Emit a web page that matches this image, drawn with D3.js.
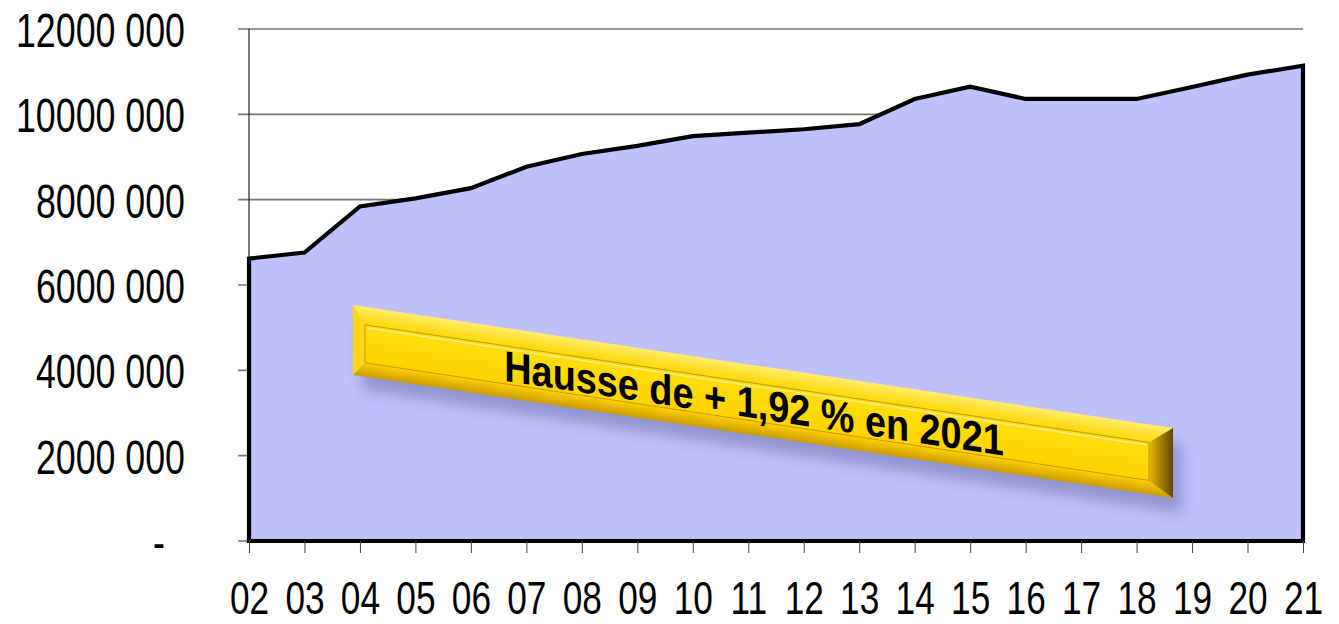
<!DOCTYPE html>
<html><head><meta charset="utf-8">
<script src="https://cdn.jsdelivr.net/npm/d3@7"></script>
<style>html,body{margin:0;padding:0;background:#fff;}svg{display:block;}</style>
</head><body>
<svg id="chart" width="1339" height="624"></svg>
<script>
const categories = ["02","03","04","05","06","07","08","09","10","11","12","13","14","15","16","17","18","19","20","21"];
const values = [6620000,6760000,7840000,8030000,8270000,8770000,9070000,9260000,9490000,9570000,9650000,9770000,10360000,10650000,10360000,10360000,10360000,10640000,10930000,11140000];
const yTicks = [0,2000000,4000000,6000000,8000000,10000000,12000000];
const bannerText = "Hausse de + 1,92 % en 2021";

(function(){
const svg = d3.select("#chart");
const pL = 249, pR = 1303, pT = 29, pB = 541;
const x = d3.scalePoint().domain(categories).range([pL, pR]);
const y = d3.scaleLinear().domain([0, 12000000]).range([pB, pT]);

const fmt = d => d === 0 ? "-" : String(Math.floor(d/1000)) + " " + String(d % 1000).padStart(3, "0");

// gridlines + y ticks
svg.append("g").selectAll("line").data(yTicks).join("line")
  .attr("x1", pL - 11).attr("x2", d => d === 0 ? pL : pR)
  .attr("y1", d => y(d)).attr("y2", d => y(d))
  .attr("stroke", "#767676").attr("stroke-width", 1.6);

// left axis line
svg.append("line").attr("x1", pL).attr("x2", pL).attr("y1", pT).attr("y2", pB)
  .attr("stroke", "#222").attr("stroke-width", 1.2);

// area
const area = d3.area().x((d,i) => x(categories[i])).y0(y(0)).y1(d => y(d));
svg.append("path").datum(values).attr("d", area)
  .attr("fill", "#C0C0FF").attr("stroke", "#000").attr("stroke-width", 4.2)
  .attr("stroke-linejoin", "miter");

// x axis ticks and labels
const xAxis = d3.axisBottom(x).tickSize(12).tickSizeOuter(0).tickPadding(0);
const gx = svg.append("g").attr("transform", `translate(0,${pB})`).call(xAxis);
gx.select(".domain").remove();
gx.selectAll(".tick line").attr("stroke", "#444").attr("stroke-width", 1);
gx.selectAll(".tick text")
  .attr("y", null).attr("dy", null)
  .attr("transform", "translate(0,73) scale(0.75,1)")
  .attr("fill", "#000")
  .style("font-family", "'Liberation Sans', Arial, sans-serif")
  .style("font-size", "47px");

// y axis labels
const yAxis = d3.axisLeft(y).tickValues(yTicks).tickFormat(fmt).tickSize(0).tickPadding(0);
const gy = svg.append("g").attr("transform", `translate(${pL},0)`).call(yAxis);
gy.select(".domain").remove();
gy.selectAll(".tick text")
  .attr("x", null).attr("dy", "0.36em")
  .attr("transform", d => d === 0 ? "translate(-84,0) scale(0.73,1)" : "translate(-64,0) scale(0.73,1)")
  .attr("fill", "#000")
  .style("font-family", "'Liberation Sans', Arial, sans-serif")
  .style("font-size", "49px");

// banner
const defs = svg.append("defs");
const blur = defs.append("filter").attr("id", "blur").attr("x", "-10%").attr("y", "-50%").attr("width", "120%").attr("height", "200%");
blur.append("feGaussianBlur").attr("stdDeviation", 7);
const gTop = defs.append("linearGradient").attr("id", "gTop").attr("x1", 0).attr("y1", 0).attr("x2", 0).attr("y2", 1);
gTop.append("stop").attr("offset", 0).attr("stop-color", "#FFEC70");
gTop.append("stop").attr("offset", 1).attr("stop-color", "#FFD800");
const gRight = defs.append("linearGradient").attr("id", "gRight").attr("x1", 0).attr("y1", 0).attr("x2", 1).attr("y2", 0);
gRight.append("stop").attr("offset", 0).attr("stop-color", "#E8B800");
gRight.append("stop").attr("offset", 1).attr("stop-color", "#5E4800");
const gBot = defs.append("linearGradient").attr("id", "gBot").attr("x1", 0).attr("y1", 0).attr("x2", 0).attr("y2", 1);
gBot.append("stop").attr("offset", 0).attr("stop-color", "#FFD000");
gBot.append("stop").attr("offset", 1).attr("stop-color", "#C89C00");
const gFace = defs.append("linearGradient").attr("id", "gFace").attr("x1", 0).attr("y1", 0).attr("x2", 0).attr("y2", 1);
gFace.append("stop").attr("offset", 0).attr("stop-color", "#FFDD10");
gFace.append("stop").attr("offset", 1).attr("stop-color", "#FFD500");

const W = 820, H = 70, bl = 12, bt = 18, br = 24, bb = 14;
const skew = Math.atan(0.15) * 180 / Math.PI;
const shadow = svg.append("g").attr("transform", `translate(362,320) skewY(${skew})`);
shadow.append("rect").attr("width", W).attr("height", H).attr("fill", "#7d7db8").attr("opacity", 0.65).attr("filter", "url(#blur)");
const b = svg.append("g").attr("transform", `translate(353,305) skewY(${skew})`);
b.append("polygon").attr("points", `0,0 ${W},0 ${W-br},${bt} ${bl},${bt}`).attr("fill", "url(#gTop)");
b.append("polygon").attr("points", `0,0 ${bl},${bt} ${bl},${H-bb} 0,${H}`).attr("fill", "#FFD81A");
b.append("polygon").attr("points", `0,${H} ${bl},${H-bb} ${W-br},${H-bb} ${W},${H}`).attr("fill", "url(#gBot)");
b.append("polygon").attr("points", `${W},0 ${W},${H} ${W-br},${H-bb} ${W-br},${bt}`).attr("fill", "url(#gRight)");
b.append("rect").attr("x", bl).attr("y", bt).attr("width", W-bl-br).attr("height", H-bt-bb)
  .attr("fill", "url(#gFace)").attr("stroke", "#B89000").attr("stroke-width", 0.8);
b.append("line").attr("x1", bl+2).attr("x2", W-br-2).attr("y1", bt+3).attr("y2", bt+3).attr("stroke", "#FFEC80").attr("stroke-width", 1.5);
b.append("text").text(bannerText)
  .attr("transform", "translate(401,53) scale(0.88,1)")
  .attr("text-anchor", "middle")
  .attr("fill", "#000")
  .style("font-family", "'Liberation Sans', Arial, sans-serif")
  .style("font-weight", "bold")
  .style("font-size", "43px");
})();
</script>
</body></html>
